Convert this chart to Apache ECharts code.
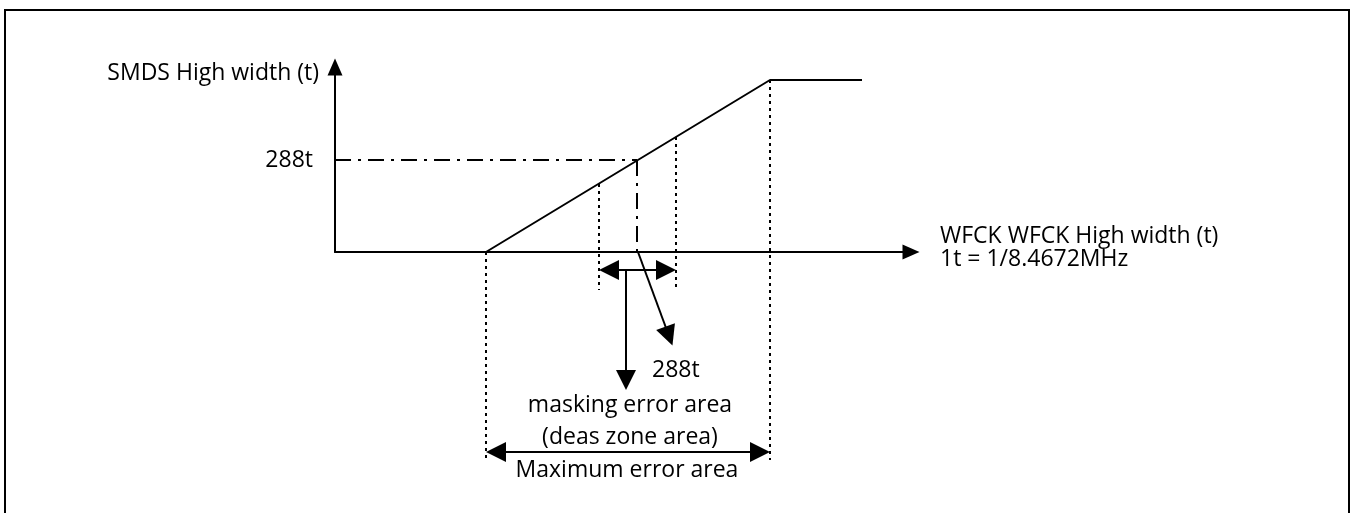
<!DOCTYPE html>
<html>
<head>
<meta charset="utf-8">
<script src="https://cdn.jsdelivr.net/npm/echarts@6/dist/echarts.min.js"></script>
<style>
html, body { margin: 0; padding: 0; background: #fff; }
#main { width: 1355px; height: 513px; }
</style>
</head>
<body>
<div id="main"></div>
<script>
// diagram units, origin at the corner of the two axes
var rampPoints = [[151, 0], [435, 172], [527, 172]];
var level288 = 92;
var cross288X = 302;
var maskWindowX = [264, 341];
var maskWindowTopY = [68, 115];
var maskDottedEndY = -38;
var maxWindowX = [151, 435];
var maxWindowTopY = [0, 172];
var maxDottedEndY = -208;
// arrow ends are the centres of the heads
var maskArrowX = [274, 331];
var maskArrowY = -18;
var maskDropX = 291;
var maskDropEndY = -128;
var diagArrow = [[303, 0], [334, -84]];
var maxArrowX = [161, 425];
var maxArrowY = -200;
var yTickStep = 92;
var yTickLabel = '288t';

var FONT = 'Open Sans';
var black = '#000';

function drawChart() {
  var myChart = echarts.init(document.getElementById('main'));

  var dotted = [];
  for (var i = 0; i < 2; i++) {
    dotted.push({ coords: [[maskWindowX[i], maskWindowTopY[i]], [maskWindowX[i], maskDottedEndY]] });
    dotted.push({ coords: [[maxWindowX[i], maxWindowTopY[i]], [maxWindowX[i], maxDottedEndY]] });
  }

  var text = function (str, x, y, align) {
    return {
      type: 'text', x: x, y: y,
      style: { text: str, fill: black, font: '23px "' + FONT + '"', align: align, verticalAlign: 'middle' }
    };
  };

  var option = {
    animation: false,
    textStyle: { fontFamily: FONT },
    grid: { left: 335, top: 67, right: 444, bottom: 261, containLabel: false },
    xAxis: {
      type: 'value', min: 0, max: 576,
      axisLine: { lineStyle: { color: black, width: 2 }, symbol: ['none', 'triangle'], symbolSize: [15, 17] },
      axisTick: { show: false }, axisLabel: { show: false }, splitLine: { show: false }
    },
    yAxis: {
      type: 'value', min: 0, max: 185, interval: yTickStep,
      axisLine: { show: true, lineStyle: { color: black, width: 2 }, symbol: ['none', 'triangle'], symbolSize: [15, 17] },
      axisTick: { show: false }, splitLine: { show: false },
      axisLabel: {
        margin: 22, color: black, fontSize: 23, fontFamily: FONT,
        formatter: function (v) { return v === level288 ? yTickLabel : ''; }
      }
    },
    graphic: [
      { type: 'rect', shape: { x: 5, y: 10, width: 1344, height: 530 }, style: { fill: 'none', stroke: black, lineWidth: 2 } },
      text('SMDS High width (t)', 319, 73, 'right'),
      text('WFCK WFCK High width (t)', 940, 236, 'left'),
      text('1t = 1/8.4672MHz', 940, 259, 'left'),
      text('288t', 652, 370, 'left'),
      text('masking error area', 630, 405, 'center'),
      text('(deas zone area)', 630, 437, 'center'),
      text('Maximum error area', 627, 470, 'center')
    ],
    series: [
      {
        type: 'line', data: rampPoints, symbol: 'none', clip: false,
        lineStyle: { color: black, width: 2 }
      },
      {
        type: 'lines', coordinateSystem: 'cartesian2d', clip: false,
        lineStyle: { color: black, width: 2, opacity: 1, type: [16, 7, 3, 7] },
        data: [
          { coords: [[0, level288], [cross288X, level288]] },
          { coords: [[cross288X, level288], [cross288X, 0]] }
        ]
      },
      {
        type: 'lines', coordinateSystem: 'cartesian2d', clip: false,
        lineStyle: { color: black, width: 2, opacity: 1, type: [3, 4] },
        data: dotted
      },
      {
        type: 'lines', coordinateSystem: 'cartesian2d', clip: false,
        symbol: ['triangle', 'triangle'], symbolSize: 20,
        lineStyle: { color: black, width: 2, opacity: 1 },
        data: [
          { coords: [[maskArrowX[0], maskArrowY], [maskArrowX[1], maskArrowY]] },
          { coords: [[maxArrowX[0], maxArrowY], [maxArrowX[1], maxArrowY]] }
        ]
      },
      {
        type: 'lines', coordinateSystem: 'cartesian2d', clip: false,
        symbol: ['none', 'triangle'], symbolSize: 20,
        lineStyle: { color: black, width: 2, opacity: 1 },
        data: [
          { coords: [[maskDropX, maskArrowY], [maskDropX, maskDropEndY]] },
          { coords: diagArrow }
        ]
      }
    ]
  };
  myChart.setOption(option);
}
drawChart();
</script>
</body>
</html>
